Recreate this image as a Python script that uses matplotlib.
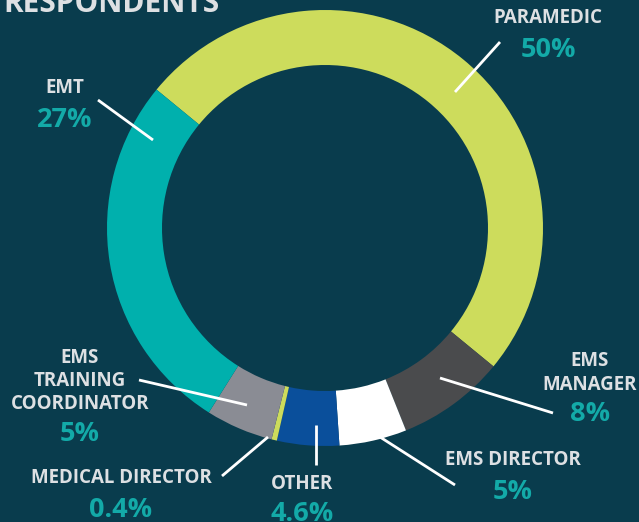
import matplotlib.pyplot as plt

# data (clockwise from the top-left)
categories = ["PARAMEDIC", "EMS\nMANAGER", "EMS DIRECTOR", "OTHER",
              "MEDICAL DIRECTOR", "EMS\nTRAINING\nCOORDINATOR", "EMT"]
shares = [50, 8, 5, 4.6, 0.4, 5, 27]
pct_labels = ["50%", "8%", "5%", "4.6%", "0.4%", "5%", "27%"]

colors = ["#cddc5c", "#4a4b4d", "#ffffff", "#0a4f9b", "#cddc5c", "#8a8c94", "#00b0ad"]
bg = "#093c4d"
txt_col = "#dde0e3"
pct_col = "#13aaa8"

W, H = 639, 522
# layout in pixel coords (y from top)
label_pos = [(548, 18), (590, 373), (513, 460), (302, 484), (121, 478), (80, 381), (65, 88)]
pct_pos = [(548, 50), (590, 414), (513, 492), (302, 514), (121, 510), (80, 434), (65, 120)]
leaders = [((500, 42), (455, 92)), ((553, 413), (440, 378)), ((455, 485), (380, 437)),
           ((316, 465), (316, 425)), ((222, 476), (268, 437)), ((139, 380), (247, 405)),
           ((98, 100), (153, 140))]

plt.rcParams['font.family'] = ['Open Sans', 'DejaVu Sans']

fig = plt.figure(figsize=(W / 100, H / 100), dpi=100, facecolor=bg)
ax = fig.add_axes([0, 0, 1, 1])
ax.set_facecolor(bg)

cx, cy, r = 325, 228, 218
ax.pie(shares, colors=colors, startangle=140.6, counterclock=False,
       center=(cx, H - cy), radius=r,
       wedgeprops=dict(width=55, linewidth=0))

for (x1, y1), (x2, y2) in leaders:
    ax.plot([x1, x2], [H - y1, H - y2], color="white", lw=2, solid_capstyle="butt")

for lab, (x, y) in zip(categories, label_pos):
    ax.text(x, H - y, lab, ha="center", va="center", color=txt_col,
            fontsize=13.5, fontweight="bold", linespacing=1.2)
for lab, (x, y) in zip(pct_labels, pct_pos):
    ax.text(x, H - y, lab, ha="center", va="center", color=pct_col,
            fontsize=19.5, fontweight="bold")

ax.text(3, H - 12, "RESPONDENTS", ha="left", va="baseline", color=txt_col,
        fontsize=21.5, fontweight="bold")

ax.set_xlim(0, W)
ax.set_ylim(0, H)
ax.set_aspect("auto")
ax.axis("off")

fig.savefig("out.png", dpi=100, facecolor=bg)
